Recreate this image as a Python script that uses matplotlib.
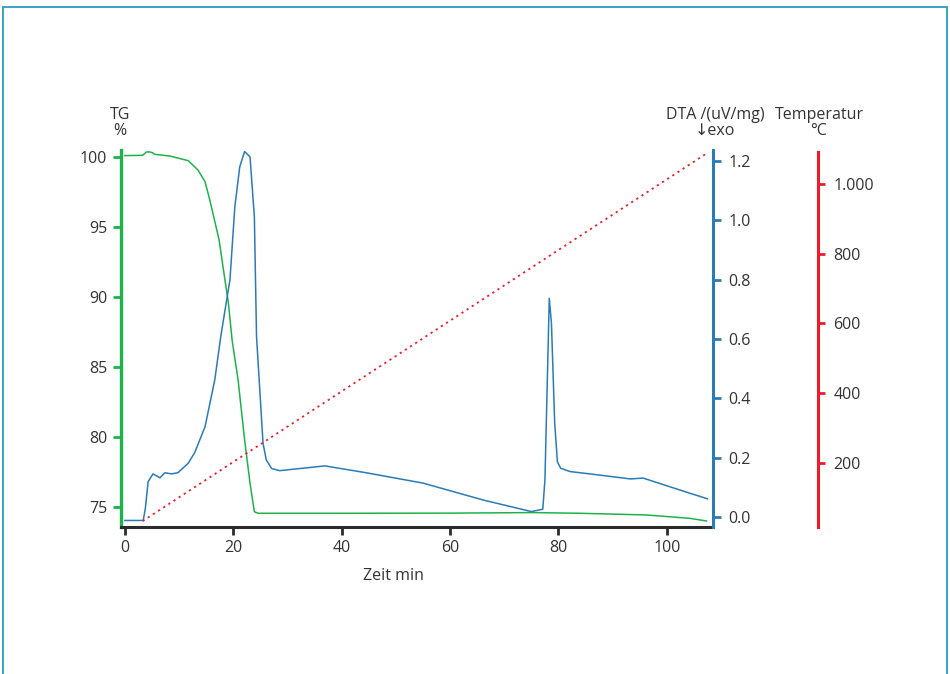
import matplotlib
matplotlib.use("Agg")
import matplotlib.pyplot as plt
from matplotlib.patches import Rectangle

# %% Data

# TG curve (mass, %)
tg_time = [0, 3.3, 4.0, 4.6, 5.1, 5.5, 8.3, 11.7, 13.5, 14.8, 15.7, 16.6, 17.4,
           18.1, 19.1, 19.8, 20.9, 22.1, 23.1, 23.9, 24.6, 40, 60, 75, 84,
           96.2, 104.2, 107.3]
tg_val = [100.1, 100.12, 100.36, 100.36, 100.31, 100.19, 100.07, 99.74, 99.07,
          98.24, 96.9, 95.4, 94.07, 92.2, 89.6, 86.9, 84.07, 79.8, 76.7, 74.66,
          74.55, 74.55, 74.56, 74.6, 74.55, 74.43, 74.19, 74.0]

# DTA curve (uV/mg)
dta_time = [0, 3.4, 3.8, 4.3, 5.2, 6.5, 7.4, 8.6, 9.8, 11.7, 12.9, 14.8, 16.6,
            17.7, 19.4, 20.3, 21.2, 22.1, 23.1, 23.9, 24.3, 25.5, 26.1, 27.1,
            28.6, 36.9, 44.5, 55.0, 66.1, 75.0, 77.1, 77.5, 78.3, 78.7, 79.3,
            79.8, 80.4, 82.1, 85.8, 93.3, 95.6, 104.2, 107.5]
dta_val = [-0.012, -0.012, 0.03, 0.119, 0.145, 0.132, 0.149, 0.145, 0.149,
           0.181, 0.217, 0.304, 0.462, 0.608, 0.80, 1.046, 1.18, 1.232, 1.214,
           1.012, 0.608, 0.248, 0.192, 0.163, 0.156, 0.172, 0.149, 0.114,
           0.057, 0.018, 0.026, 0.125, 0.737, 0.653, 0.316, 0.186, 0.164,
           0.153, 0.145, 0.128, 0.131, 0.08, 0.061]

# Furnace temperature (degC)
temp_time = [3.3, 107.4]
temp_val = [34, 1088]

x_ticks = [0, 20, 40, 60, 80, 100]
tg_ticks = [75, 80, 85, 90, 95, 100]
dta_ticks = [0.0, 0.2, 0.4, 0.6, 0.8, 1.0, 1.2]
dta_labels = ["0.0", "0.2", "0.4", "0.6", "0.8", "1.0", "1.2"]
temp_ticks = [200, 400, 600, 800, 1000]
temp_labels = ["200", "400", "600", "800", "1.000"]

# %% Style

green = "#1db34a"
blue = "#2b7bb6"
red = "#ee1c2a"
dark = "#2b2b2b"
text_col = "#333333"
fs = 11.5

plt.rcParams["font.family"] = ["Open Sans", "DejaVu Sans"]
plt.rcParams["font.size"] = fs
plt.rcParams["text.color"] = text_col

W, H = 950, 674
fig = plt.figure(figsize=(W / 100, H / 100), dpi=100)

ax_l, ax_r, ax_b, ax_t = 121, 713, 527, 150
ax = fig.add_axes([ax_l / W, 1 - ax_b / H, (ax_r - ax_l) / W, (ax_b - ax_t) / H])
ax.patch.set_alpha(0)

# %% TG axis (left)
ax.plot(tg_time, tg_val, color=green, lw=1.1)
ax.set_xlim(-0.7, 108.5)
ax.set_ylim(73.57, 100.5)
ax.set_xticks(x_ticks)
ax.set_yticks(tg_ticks)
for s in ["top", "right"]:
    ax.spines[s].set_visible(False)
ax.spines["left"].set_color(green)
ax.spines["left"].set_linewidth(2.4)
ax.spines["bottom"].set_color(dark)
ax.spines["bottom"].set_linewidth(2.2)
ax.tick_params(axis="y", colors=green, width=2, length=6, pad=4,
               labelcolor=text_col, labelsize=fs)
ax.tick_params(axis="x", colors=dark, width=2, length=6, pad=3,
               labelcolor=text_col, labelsize=fs)
ax.set_xlabel("Zeit min", fontsize=fs, color=text_col)
ax.xaxis.set_label_coords((393 - ax_l) / (ax_r - ax_l), -0.108)

# %% DTA axis (right)
ax2 = ax.twinx()
ax2.plot(dta_time, dta_val, color=blue, lw=1.1)
ax2.set_ylim(-0.034, 1.237)
ax2.set_yticks(dta_ticks)
ax2.set_yticklabels(dta_labels)
for s in ["top", "left", "bottom"]:
    ax2.spines[s].set_visible(False)
ax2.spines["right"].set_color(blue)
ax2.spines["right"].set_linewidth(2.2)
ax2.tick_params(axis="y", colors=blue, width=2, length=6, pad=5,
                labelcolor=text_col, labelsize=fs)

# %% Temperature axis (far right)
ax3 = ax.twinx()
ax3.plot(temp_time, temp_val, color=red, lw=1.3, linestyle=(0, (1.2, 2.2)))
ax3.set_ylim(17, 1097)
ax3.set_yticks(temp_ticks)
ax3.set_yticklabels(temp_labels)
for s in ["top", "left", "bottom"]:
    ax3.spines[s].set_visible(False)
ax3.spines["right"].set_position(("axes", (818 - ax_l) / (ax_r - ax_l)))
ax3.spines["right"].set_color(red)
ax3.spines["right"].set_linewidth(2.2)
ax3.spines["right"].set_bounds(17, 1090)
ax3.tick_params(axis="y", colors=red, width=2, length=5, pad=6,
                labelcolor=text_col, labelsize=fs)

# %% Axis titles
fig.text(120 / W, 1 - 123 / H, "TG\n%", ha="center", va="center",
         multialignment="center", fontsize=fs, linespacing=0.95)
fig.text(715 / W, 1 - 123 / H, "DTA /(uV/mg)\n↓exo", ha="center", va="center",
         multialignment="center", fontsize=fs, linespacing=0.95)
fig.text(819 / W, 1 - 123 / H, "Temperatur\n°C", ha="center", va="center",
         multialignment="center", fontsize=fs, linespacing=0.95)

# frame round the figure
fig.add_artist(Rectangle((3 / W, -0.05), 944 / W, (H - 7) / H + 0.05,
                         transform=fig.transFigure, fill=False,
                         edgecolor="#2a9cc0", lw=1.3))

fig.savefig("out.png", dpi=100)
